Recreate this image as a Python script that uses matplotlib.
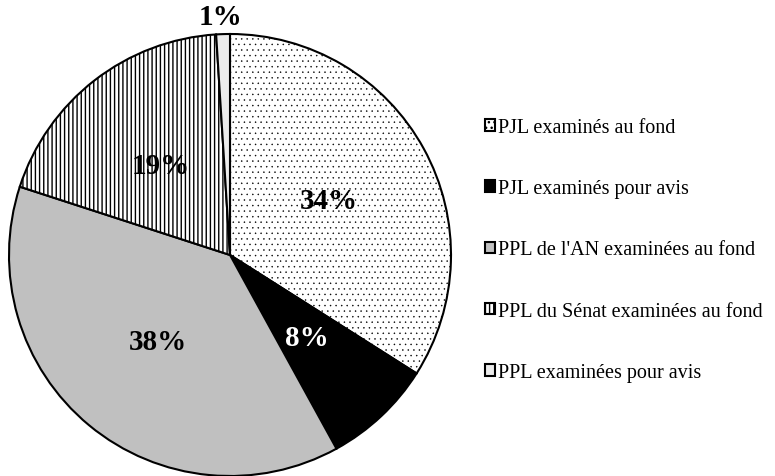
import matplotlib.pyplot as plt

plt.rcParams['font.family'] = ['Liberation Serif', 'DejaVu Serif']
plt.rcParams['hatch.linewidth'] = 1.0

# data
labels = ["PJL examinés au fond", "PJL examinés pour avis",
          "PPL de l'AN examinées au fond", "PPL du Sénat examinées au fond",
          "PPL examinées pour avis"]
shares = [34, 8, 38, 19, 1]
colors = ['white', 'black', '#c0c0c0', 'white', '#ececec']
hatches = ['...', '', '', '||||', '']

fig = plt.figure(figsize=(7.75, 4.77), dpi=100)
# pie spans x 7..453 px and y 35..477 px
ax = fig.add_axes([7 / 775, 0, 446 / 775, 442 / 477])

wedges, texts, pcts = ax.pie(shares, colors=colors, startangle=90, counterclock=False,
                             autopct='%d%%', pctdistance=0.51, radius=1,
                             wedgeprops=dict(edgecolor='black', linewidth=1.5),
                             textprops=dict(fontsize=21, fontweight='bold'))
for w, h in zip(wedges, hatches):
    w.set_hatch(h)
wedges[0].set_hatch_linewidth(0.3)
pcts[1].set_color('white')
# small slice label outside the pie
x, y = pcts[4].get_position()
pcts[4].set_position((x * 1.08 / 0.51 - 0.01, y * 1.08 / 0.51))
ax.set_xlim(-1, 1)
ax.set_ylim(-1, 1)
ax.axis('off')

fig.legend(wedges, labels, loc='center left', bbox_to_anchor=(485 / 775, 1 - 251 / 477),
           frameon=False, fontsize=14.5, handlelength=0.5, handleheight=0.5,
           handletextpad=0.15, labelspacing=2.1, borderpad=0, borderaxespad=0)

fig.savefig('out.png', dpi=100)
